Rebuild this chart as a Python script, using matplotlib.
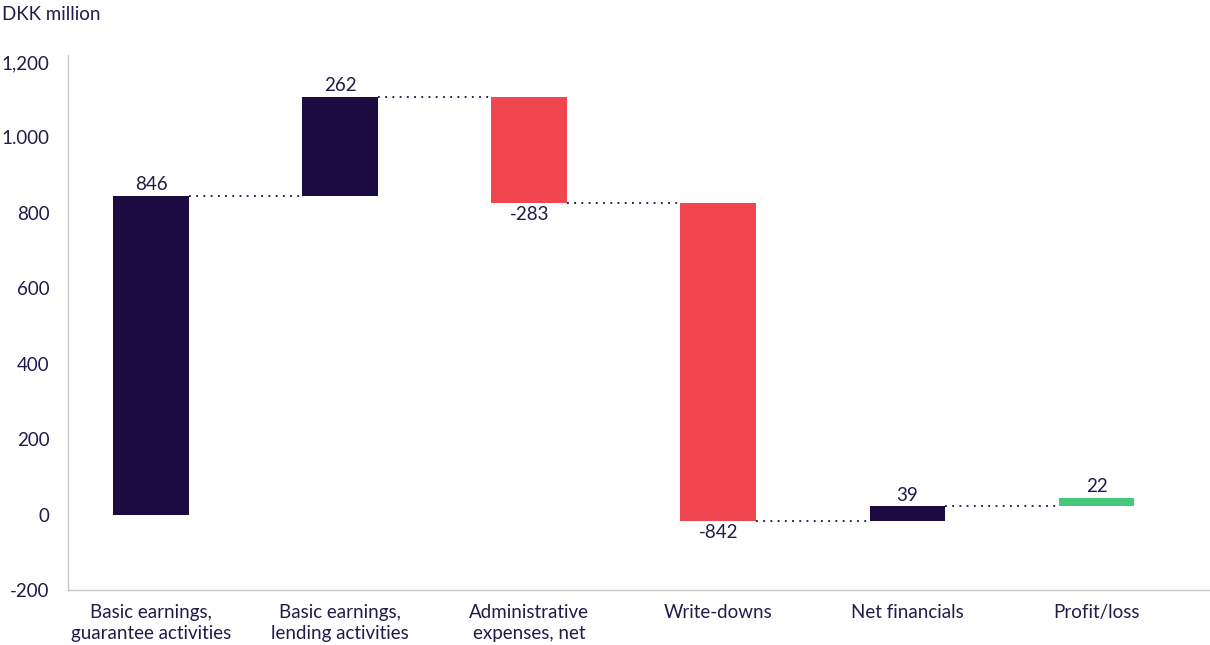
import matplotlib.pyplot as plt
import numpy as np

plt.rcParams['font.family'] = ['Lato', 'DejaVu Sans']

categories = ['Basic earnings,\nguarantee activities', 'Basic earnings,\nlending activities',
              'Administrative\nexpenses, net', 'Write-downs', 'Net financials', 'Profit/loss']
values = [846, 262, -283, -842, 39, 22]
kinds = ['up', 'up', 'down', 'down', 'up', 'total']
yticks = [-200, 0, 200, 400, 600, 800, 1000, 1200]
ytick_labels = ['-200', '0', '200', '400', '600', '800', '1.000', '1,200']

navy = '#1b0b40'
red = '#f04650'
green = '#46c87a'
txt = '#231a4a'
fs = 13.5

fig = plt.figure(figsize=(12.1, 6.45), dpi=100)
ax = fig.add_axes([0.056, 0.085, 0.944, 0.83])

x = np.arange(len(values))
w = 0.4
run = 0
for i, v in enumerate(values):
    if kinds[i] == 'total':
        b = run
        h = v
    elif v >= 0:
        b = run
        h = v
        run += v
    else:
        b = run + v
        h = -v
        run += v
    col = {'up': navy, 'down': red, 'total': green}[kinds[i]]
    ax.bar(x[i], h, w, bottom=b, color=col, zorder=2)
    if v >= 0:
        ax.text(x[i], b + h + 7, str(v), ha='center', va='bottom', fontsize=fs, color=txt)
    else:
        ax.text(x[i], b - 7, str(v), ha='center', va='top', fontsize=fs, color=txt)

# connectors
level = 0
for i in range(len(values) - 1):
    if kinds[i] == 'total':
        break
    level += values[i]
    ax.plot([x[i] + w / 2, x[i + 1] - w / 2], [level, level], color=navy,
            linestyle=(0, (1, 3)), linewidth=1.3, zorder=1)

ax.set_xlim(-0.44, 5.6)
ax.set_ylim(-200, 1219)
ax.set_yticks(yticks)
ax.set_yticklabels(ytick_labels)
ax.set_xticks(x)
ax.set_xticklabels(categories, linespacing=1.3)
ax.tick_params(axis='both', length=0, labelsize=fs, labelcolor=txt)
ax.tick_params(axis='y', pad=13)
ax.tick_params(axis='x', pad=10)
for s in ['top', 'right']:
    ax.spines[s].set_visible(False)
for s in ['left', 'bottom']:
    ax.spines[s].set_color('#c8c8c8')
    ax.spines[s].set_linewidth(1)

fig.text(0.002, 0.978, 'DKK million', fontsize=fs, color=txt, ha='left', va='center')

fig.savefig('out.png', dpi=100)
